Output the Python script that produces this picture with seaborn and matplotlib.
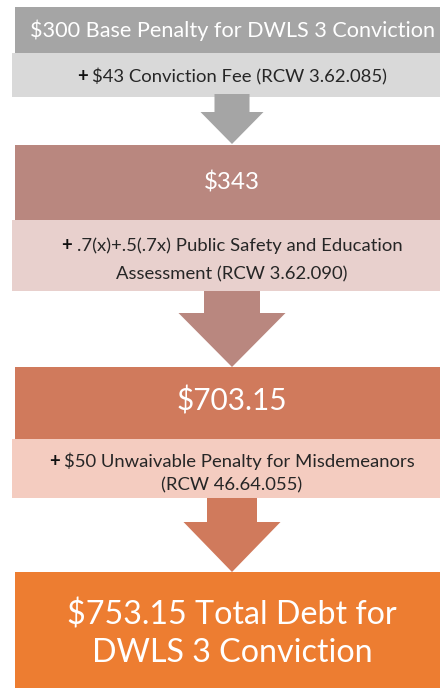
"""
DWLS 3 conviction penalty build-up, drawn as a stacked flow diagram.
"""

import matplotlib
matplotlib.use('Agg')
import matplotlib.pyplot as plt
import seaborn as sns

# --- data -------------------------------------------------------------
amount_labels = [['$300 Base Penalty for DWLS 3 Conviction'], ['$343'], ['$703.15'],
                 ['$753.15 Total Debt for', 'DWLS 3 Conviction']]
step_lines = [
    ['+ $43 Conviction Fee (RCW 3.62.085)'],
    ['+ .7(x)+.5(.7x) Public Safety and Education', 'Assessment (RCW 3.62.090)'],
    ['+ $50 Unwaivable Penalty for Misdemeanors', '(RCW 46.64.055)'],
]

# --- layout / style (pixel space, y down) ------------------------------
main_colors = ['#a5a5a5', '#b9877f', '#d07a5c', '#ed7d31']
light_colors = ['#d9d9d9', '#e8d0cd', '#f4ccc0']
main_spans = [(7, 53), (145, 220), (367, 439), (572, 700)]
light_spans = [(53, 97), (220, 291), (439, 498)]
main_fs = [15.6, 17.4, 21.4, 23.2]
main_baselines = [[37], [190], [410], [625, 662]]
step_fs = 13.3
step_baselines = [[82], [251, 279], [467, 490]]
arrows = [  # shaft half width, head half width, shaft top, head top, tip
    (17.5, 31.5, 94, 112, 144),
    (28, 53.5, 291, 313, 367),
    (25, 48.5, 498, 522, 572),
]
cx = 232

sns.set_theme(style='white')
plt.rcParams['font.family'] = ['Lato', 'DejaVu Sans']

fig = plt.figure(figsize=(4.4, 6.88), dpi=100)
ax = fig.add_axes([0, 0, 1, 1])
ax.set_xlim(0, 440)
ax.set_ylim(688, 0)
ax.axis('off')
fig.canvas.draw()
renderer = fig.canvas.get_renderer()


def text_width(s, **kw):
    t = ax.text(0, 0, s, **kw)
    w = t.get_window_extent(renderer).width
    t.remove()
    return w


# main boxes
for (y0, y1), col in zip(main_spans, main_colors):
    ax.barh((y0 + y1) / 2, 434, height=y1 - y0, left=15, color=col, linewidth=0)
for lines, ybs, fs in zip(amount_labels, main_baselines, main_fs):
    for line, yb in zip(lines, ybs):
        ax.text(cx, yb, line, color='white', fontsize=fs, ha='center', va='baseline')

# light step boxes
for (y0, y1), col in zip(light_spans, light_colors):
    ax.barh((y0 + y1) / 2, 440, height=y1 - y0, left=12, color=col, linewidth=0)
for lines, ybs in zip(step_lines, step_baselines):
    for line, yb in zip(lines, ybs):
        if line.startswith('+ '):
            rest = line[2:]
            pw = text_width('+ ', fontsize=step_fs, fontweight='bold')
            rw = text_width(rest, fontsize=step_fs)
            x0 = cx - (pw + rw) / 2
            ax.text(x0, yb, '+', color='#111111', fontsize=step_fs,
                    fontweight='bold', ha='left', va='baseline')
            ax.text(x0 + pw, yb, rest, color='#262626', fontsize=step_fs,
                    ha='left', va='baseline')
        else:
            ax.text(cx, yb, line, color='#262626', fontsize=step_fs,
                    ha='center', va='baseline')

# arrows
for (sw, hw, ys, yh, yt), col in zip(arrows, main_colors):
    xs = [cx - sw, cx + sw, cx + sw, cx + hw, cx, cx - hw, cx - sw]
    ys_ = [ys, ys, yh, yh, yt, yh, yh]
    ax.fill(xs, ys_, color=col, linewidth=0)

plt.savefig('out.png', dpi=100)
